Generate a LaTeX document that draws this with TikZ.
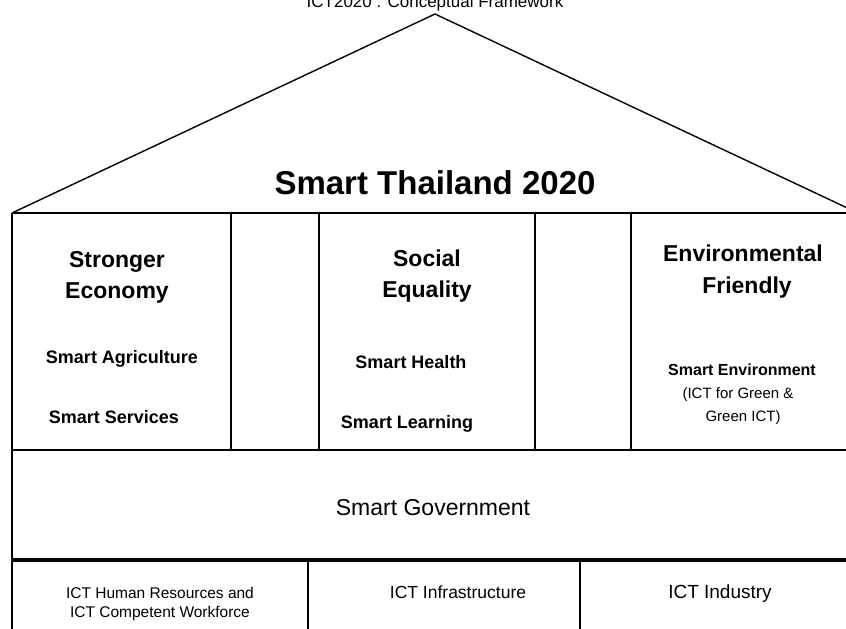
\documentclass[tikz,border=0pt]{standalone}
\usepackage{fontspec}
\setmainfont{Liberation Sans}
\newcommand{\fsize}[1]{\fontsize{#1}{#1}\selectfont}

\begin{document}
\begin{tikzpicture}[x=1pt, y=-1pt, inner sep=0pt, line width=1.4pt,
    pillar/.style={anchor=base, font=\bfseries\fsize{23}},
    smart/.style={anchor=base, font=\bfseries\fsize{18}},
    footing/.style={anchor=base, font=\fsize{16}}]
  \useasboundingbox (0,0) rectangle (846,629);
  % roof and frame points
  \path coordinate (apex)  at (435,14)
        coordinate (eaveL) at (12,213)
        coordinate (eaveR) at (858,213)
        coordinate (floorL) at (12,450)
        coordinate (floorR) at (852,450)
        coordinate (baseL) at (12,560)
        coordinate (baseR) at (852,560)
        coordinate (groundL) at (12,629);
  \path node (title) at (435,8) [footing, font=\fsize{17}] {ICT2020 : Conceptual Framework}
        node (ST)  at (435,194) [anchor=base, font=\bfseries\fsize{33}] {Smart Thailand 2020}
        node (SE1) at (117,267) [pillar] {Stronger}
        node (SE2) at (117,298) [pillar] {Economy}
        node (SQ1) at (427,266) [pillar] {Social}
        node (SQ2) at (427,297) [pillar] {Equality}
        node (EF1) at (743,261) [pillar] {Environmental}
        node (EF2) at (747,293) [pillar] {Friendly}
        node (agri)   at (122,363) [smart] {Smart Agriculture}
        node (serv)   at (114,423) [smart] {Smart Services}
        node (health) at (411,368) [smart] {Smart Health}
        node (learn)  at (407,428) [smart] {Smart Learning}
        node (env1) at (742,375) [smart, font=\bfseries\fsize{16}] {Smart Environment}
        node (env2) at (738,398) [footing, font=\fsize{15}] {(ICT for Green \&}
        node (env3) at (743,421) [footing, font=\fsize{15}] {Green ICT)}
        node (gov)  at (433,515) [footing, font=\fsize{23}] {Smart Government}
        node (hr1)  at (160,598) [footing, font=\fsize{15.5}] {ICT Human Resources and}
        node (hr2)  at (160,617) [footing, font=\fsize{15.5}] {ICT Competent Workforce}
        node (infra) at (458,598) [footing, font=\fsize{17.5}] {ICT Infrastructure}
        node (ind)   at (720,598) [footing, font=\fsize{19}] {ICT Industry};
  \draw (eaveL) -- (apex) -- (eaveR);
  \draw[line width=2pt] (eaveL) -- (eaveR);
  \draw (eaveL) -- (groundL);
  \foreach \x in {231,319,535,631}
    \draw (\x,213) -- (\x,450);
  \draw[line width=2pt] (floorL) -- (floorR);
  \draw[line width=4pt] (baseL) -- (baseR);
  \foreach \x in {308,580}
    \draw (\x,560) -- (\x,629);
\end{tikzpicture}
\end{document}
